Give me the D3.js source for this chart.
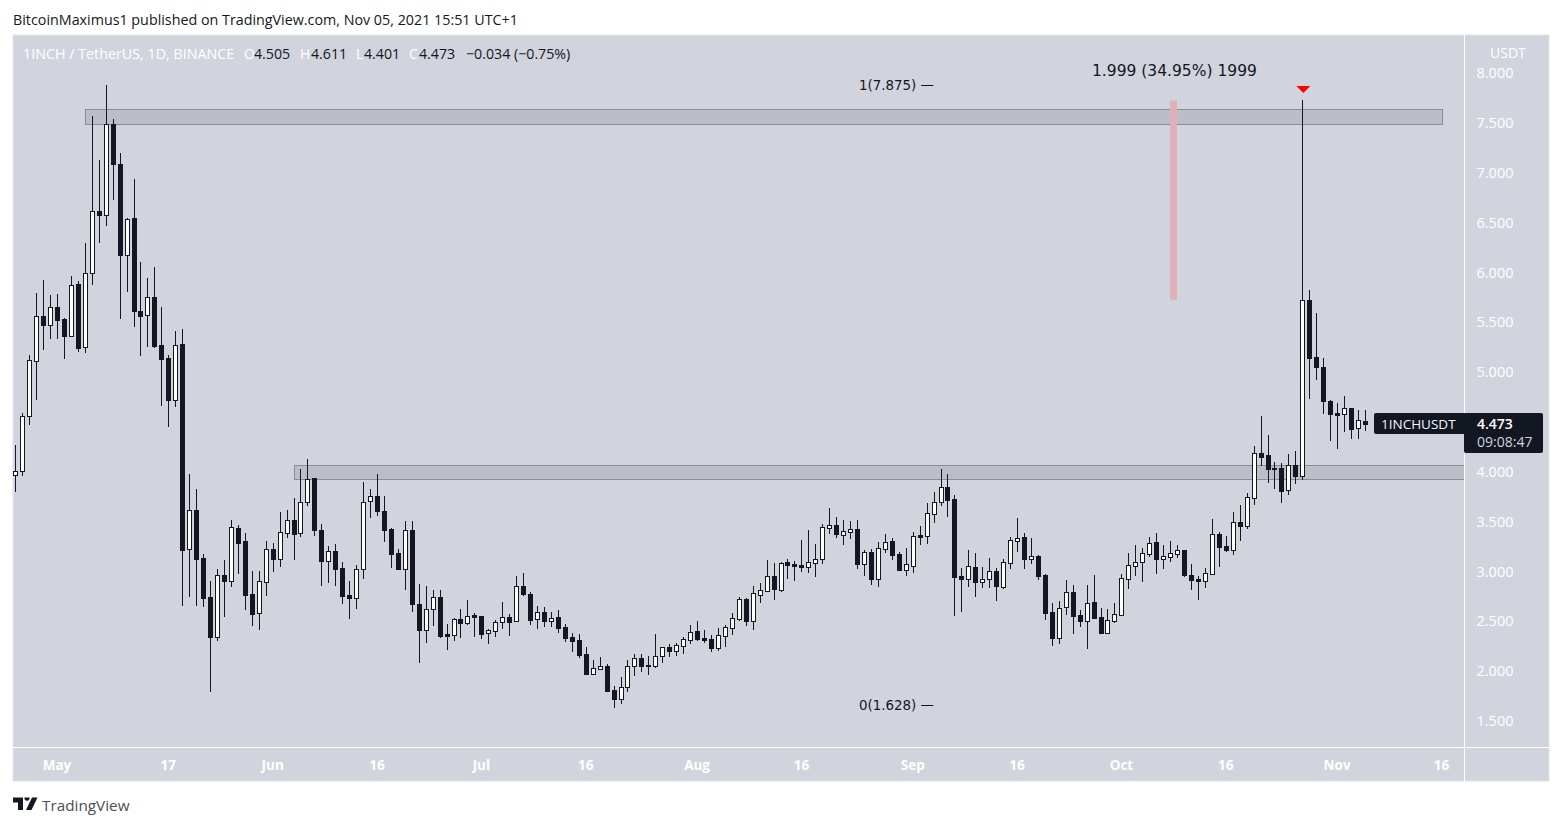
<!DOCTYPE html>
<html>
<head>
<meta charset="utf-8">
<script src="https://d3js.org/d3.v7.min.js"></script>
<style>
  html, body { margin: 0; padding: 0; background: #fff; }
  svg { display: block; }
  text { font-family: "Open Sans", "Liberation Sans", sans-serif; }
</style>
</head>
<body>
<div id="root"></div>
<script>
const firstDay = new Date(Date.UTC(2021, 3, 25));

const opens = [
  3.96, 4.00, 4.55, 5.11, 5.56, 5.47, 5.65, 5.53, 5.36, 5.88,
  5.25, 5.99, 6.61, 6.57, 7.48, 7.08, 6.17, 6.54, 5.61, 5.57,
  5.75, 5.27, 5.14, 4.71, 5.28, 3.22, 3.61, 3.13, 2.74, 2.34,
  2.96, 2.90, 3.43, 3.30, 2.77, 2.58, 2.89, 3.22, 3.12, 3.38,
  3.51, 3.38, 3.69, 3.93, 3.41, 3.10, 3.20, 3.03, 2.76, 2.73,
  3.02, 3.70, 3.75, 3.60, 3.42, 3.18, 3.02, 3.41, 2.67, 2.41,
  2.62, 2.74, 2.37, 2.36, 2.52, 2.48, 2.56, 2.55, 2.38, 2.40,
  2.49, 2.54, 2.50, 2.85, 2.77, 2.52, 2.59, 2.50, 2.54, 2.44,
  2.34, 2.31, 2.17, 1.97, 2.02, 2.05, 1.81, 1.72, 1.84, 2.05,
  2.13, 2.06, 2.05, 2.15, 2.24, 2.20, 2.25, 2.31, 2.40, 2.33,
  2.32, 2.23, 2.35, 2.43, 2.52, 2.72, 2.50, 2.76, 2.80, 2.95,
  2.81, 3.09, 3.07, 3.06, 3.04, 3.08, 3.12, 3.43, 3.46, 3.36,
  3.39, 3.42, 3.07, 3.19, 2.92, 3.22, 3.30, 3.17, 3.01, 3.05,
  3.36, 3.35, 3.57, 3.69, 3.84, 3.72, 2.95, 2.92, 3.04, 2.89,
  2.92, 3.00, 2.84, 3.08, 3.30, 3.34, 3.12, 3.15, 2.96, 2.59,
  2.33, 2.64, 2.79, 2.56, 2.50, 2.69, 2.54, 2.38, 2.50, 2.56,
  2.92, 3.05, 3.09, 3.17, 3.29, 3.12, 3.14, 3.17, 3.21, 2.96,
  2.92, 2.90, 2.97, 3.37, 3.25, 3.21, 3.49, 3.45, 3.73, 4.18,
  4.16, 4.03, 4.03, 3.81, 4.06, 3.95, 5.72, 5.15, 5.05, 4.70,
  4.58, 4.57, 4.63, 4.43, 4.505,
];
const highs = [
  4.26, 4.58, 5.17, 5.79, 5.92, 5.77, 5.78, 5.54, 5.96, 5.91,
  6.29, 7.56, 7.12, 7.875, 7.53, 7.19, 6.54, 6.93, 6.10, 5.94,
  6.05, 5.65, 5.17, 5.41, 5.43, 3.97, 3.82, 3.17, 2.90, 3.02,
  3.11, 3.51, 3.46, 3.38, 3.00, 3.00, 3.30, 3.28, 3.59, 3.61,
  3.73, 4.02, 4.12, 3.93, 3.47, 3.25, 3.27, 3.09, 2.90, 3.06,
  3.89, 3.82, 3.97, 3.75, 3.43, 3.22, 3.50, 3.50, 2.87, 2.85,
  2.81, 2.81, 2.47, 2.53, 2.62, 2.71, 2.58, 2.55, 2.42, 2.51,
  2.69, 2.57, 2.95, 2.98, 2.79, 2.65, 2.64, 2.59, 2.61, 2.47,
  2.38, 2.37, 2.24, 2.11, 2.14, 2.07, 1.85, 1.94, 2.11, 2.17,
  2.17, 2.15, 2.37, 2.24, 2.27, 2.28, 2.34, 2.46, 2.50, 2.41,
  2.36, 2.43, 2.46, 2.58, 2.74, 2.73, 2.85, 2.88, 3.11, 3.08,
  3.09, 3.12, 3.10, 3.31, 3.41, 3.27, 3.47, 3.63, 3.54, 3.51,
  3.50, 3.51, 3.21, 3.22, 3.29, 3.37, 3.33, 3.19, 3.23, 3.39,
  3.45, 3.68, 3.79, 4.02, 3.97, 3.76, 3.03, 3.21, 3.18, 3.04,
  3.13, 3.03, 3.12, 3.34, 3.53, 3.38, 3.33, 3.16, 2.97, 2.68,
  2.70, 2.91, 2.86, 2.61, 2.86, 2.96, 2.63, 2.62, 2.68, 2.97,
  3.18, 3.26, 3.23, 3.34, 3.38, 3.26, 3.30, 3.26, 3.21, 3.07,
  2.95, 3.03, 3.52, 3.39, 3.35, 3.59, 3.66, 3.78, 4.25, 4.55,
  4.36, 4.09, 4.08, 4.17, 4.20, 7.72, 5.82, 5.59, 5.14, 4.71,
  4.68, 4.76, 4.63, 4.61, 4.611,
];
const lows = [
  3.79, 3.95, 4.46, 4.71, 5.22, 5.33, 5.33, 5.13, 5.35, 5.20,
  5.19, 5.87, 6.29, 6.46, 6.72, 5.53, 5.80, 5.45, 5.16, 5.25,
  5.24, 4.65, 4.44, 4.64, 2.65, 2.74, 2.65, 2.64, 1.79, 2.30,
  2.54, 2.84, 2.97, 2.61, 2.45, 2.41, 2.75, 2.99, 3.04, 3.33,
  3.11, 3.34, 3.65, 3.35, 2.85, 2.88, 2.85, 2.67, 2.52, 2.62,
  2.92, 3.53, 3.55, 3.29, 3.03, 3.01, 2.81, 2.59, 2.08, 2.28,
  2.45, 2.33, 2.21, 2.30, 2.33, 2.46, 2.34, 2.32, 2.27, 2.34,
  2.42, 2.35, 2.49, 2.75, 2.46, 2.42, 2.44, 2.44, 2.38, 2.29,
  2.19, 2.13, 1.96, 1.96, 2.01, 1.79, 1.628, 1.67, 1.79, 1.95,
  1.99, 1.96, 2.03, 2.08, 2.14, 2.15, 2.17, 2.27, 2.30, 2.28,
  2.19, 2.20, 2.24, 2.36, 2.50, 2.45, 2.41, 2.68, 2.79, 2.71,
  2.79, 2.92, 2.90, 2.99, 2.98, 2.94, 3.07, 3.37, 3.33, 3.26,
  3.32, 3.02, 2.95, 2.86, 2.84, 3.18, 3.11, 3.00, 2.95, 2.98,
  3.26, 3.27, 3.48, 3.65, 3.54, 2.55, 2.59, 2.84, 2.74, 2.83,
  2.83, 2.70, 2.82, 3.02, 3.19, 3.02, 3.07, 2.91, 2.51, 2.25,
  2.27, 2.56, 2.37, 2.44, 2.22, 2.52, 2.37, 2.37, 2.48, 2.55,
  2.82, 2.95, 2.89, 3.14, 2.97, 3.02, 3.09, 3.13, 2.94, 2.81,
  2.71, 2.83, 2.96, 3.04, 3.19, 3.16, 3.30, 3.42, 3.66, 4.05,
  3.88, 3.82, 3.68, 3.76, 3.87, 3.91, 4.72, 4.92, 4.57, 4.30,
  4.22, 4.39, 4.32, 4.32, 4.401,
];
const closes = [
  4.00, 4.55, 5.12, 5.56, 5.47, 5.65, 5.52, 5.36, 5.87, 5.24,
  5.99, 6.61, 6.57, 7.48, 7.08, 6.17, 6.53, 5.61, 5.56, 5.75,
  5.26, 5.13, 4.71, 5.27, 3.21, 3.61, 3.12, 2.73, 2.34, 2.96,
  2.90, 3.44, 3.28, 2.76, 2.57, 2.90, 3.22, 3.12, 3.39, 3.51,
  3.37, 3.69, 3.92, 3.41, 3.10, 3.20, 3.02, 2.75, 2.73, 3.02,
  3.69, 3.75, 3.60, 3.41, 3.17, 3.02, 3.41, 2.67, 2.41, 2.62,
  2.74, 2.35, 2.35, 2.52, 2.48, 2.55, 2.54, 2.37, 2.41, 2.49,
  2.54, 2.49, 2.85, 2.77, 2.51, 2.59, 2.50, 2.53, 2.43, 2.33,
  2.30, 2.16, 1.97, 2.03, 2.05, 1.80, 1.72, 1.84, 2.05, 2.13,
  2.05, 2.05, 2.15, 2.24, 2.20, 2.26, 2.32, 2.39, 2.32, 2.31,
  2.23, 2.36, 2.44, 2.53, 2.72, 2.50, 2.78, 2.81, 2.95, 2.82,
  3.08, 3.06, 3.05, 3.04, 3.09, 3.12, 3.44, 3.46, 3.37, 3.40,
  3.42, 3.07, 3.19, 2.92, 3.23, 3.29, 3.16, 3.01, 3.07, 3.35,
  3.34, 3.58, 3.69, 3.84, 3.71, 2.94, 2.92, 3.05, 2.89, 2.92,
  3.00, 2.85, 3.09, 3.31, 3.33, 3.12, 3.15, 2.95, 2.58, 2.33,
  2.63, 2.79, 2.55, 2.50, 2.68, 2.53, 2.38, 2.51, 2.57, 2.93,
  3.06, 3.09, 3.18, 3.28, 3.12, 3.15, 3.18, 3.21, 2.96, 2.91,
  2.90, 2.98, 3.37, 3.24, 3.21, 3.49, 3.45, 3.74, 4.18, 4.14,
  4.02, 4.02, 3.80, 4.06, 3.95, 5.72, 5.14, 5.05, 4.70, 4.57,
  4.56, 4.63, 4.42, 4.51, 4.473,
];

const priceTicks = [1.5, 2, 2.5, 3, 3.5, 4, 5, 5.5, 6, 6.5, 7, 7.5, 8];
const dateTicks = [
  ['2021-05-01', 'May'], ['2021-05-17', '17'], ['2021-06-01', 'Jun'], ['2021-06-16', '16'],
  ['2021-07-01', 'Jul'], ['2021-07-16', '16'], ['2021-08-01', 'Aug'], ['2021-08-16', '16'],
  ['2021-09-01', 'Sep'], ['2021-09-16', '16'], ['2021-10-01', 'Oct'], ['2021-10-16', '16'],
  ['2021-11-01', 'Nov'], ['2021-11-16', '16'],
];

const upperZone = { from: '2021-05-05', to: '2021-11-16', top: 7.63, bottom: 7.48 };
const lowerZone = { from: '2021-06-04', top: 4.06, bottom: 3.92 };

const dark = '#131722';
const panelFill = '#d1d4dc';
const axisText = '#fff';

const svg = d3.select('#root').append('svg').attr('width', 1562).attr('height', 826);

const panel = { left: 13, top: 35, right: 1549, bottom: 781, axisX: 1464, axisY: 747 };

// Scales
const days = d3.utcDay.range(firstDay, d3.utcDay.offset(firstDay, closes.length));
const xScale = d3
  .scaleUtc()
  .domain([firstDay, days[days.length - 1]])
  .range([15.75, 15.75 + 194 * 6.957]);
const yScale = d3.scaleLinear().domain([1.5, 8]).range([720.5, 72.5]);
const col = (date) => Math.floor(xScale(date));

// Panel background
svg
  .append('rect')
  .attr('x', panel.left)
  .attr('y', panel.top)
  .attr('width', panel.right - panel.left)
  .attr('height', panel.bottom - panel.top)
  .attr('fill', panelFill)
  .attr('stroke', '#e0e3eb');

// Zones
const zones = [
  { x0: col(new Date(upperZone.from)), x1: col(new Date(upperZone.to)) + 1, ...upperZone },
  { x0: col(new Date(lowerZone.from)), x1: panel.axisX, ...lowerZone },
];
svg
  .append('g')
  .attr('id', 'zones')
  .selectAll('rect')
  .data(zones)
  .enter()
  .append('rect')
  .attr('x', (d) => d.x0 + 0.5)
  .attr('y', (d) => Math.round(yScale(d.top)) + 0.5)
  .attr('width', (d) => d.x1 - d.x0)
  .attr('height', (d) => Math.round(yScale(d.bottom)) - Math.round(yScale(d.top)))
  .attr('fill', '#bbbec7')
  .attr('stroke', '#8b8e96');

// Pink bar for the 1.999 move
const barDay = d3.utcDay.offset(firstDay, 166);
svg
  .append('rect')
  .attr('x', col(barDay))
  .attr('width', 7)
  .attr('y', yScale(highs[185]))
  .attr('height', yScale(closes[185]) - yScale(highs[185]))
  .attr('fill', '#dfb0b6');

// Axis lines
svg
  .append('path')
  .attr('d', `M${panel.axisX + 0.5},${panel.top}V${panel.bottom}M${panel.left},${panel.axisY + 0.5}H${panel.right}`)
  .attr('stroke', '#fff')
  .attr('fill', 'none');

// Candles
const candles = days.map((day, i) => ({
  day,
  open: opens[i],
  high: highs[i],
  low: lows[i],
  close: closes[i],
}));

const candle = svg
  .append('g')
  .attr('id', 'candles')
  .attr('shape-rendering', 'crispEdges')
  .selectAll('g')
  .data(candles)
  .enter()
  .append('g');

candle
  .append('rect')
  .attr('x', (d) => col(d.day))
  .attr('width', 1)
  .attr('y', (d) => Math.round(yScale(d.high)))
  .attr('height', (d) => Math.max(1, Math.round(yScale(d.low)) - Math.round(yScale(d.high))))
  .attr('fill', dark);

candle
  .append('rect')
  .attr('x', (d) => col(d.day) - 1.5)
  .attr('width', 4)
  .attr('y', (d) => Math.round(yScale(Math.max(d.open, d.close))) + 0.5)
  .attr('height', (d) =>
    Math.max(1, Math.round(yScale(Math.min(d.open, d.close))) - Math.round(yScale(Math.max(d.open, d.close)))),
  )
  .attr('fill', (d) => (d.close > d.open ? '#fff' : dark))
  .attr('stroke', dark);

// Red marker above the spike
const spikeDay = days[185];
svg
  .append('path')
  .attr('d', d3.line()([
    [xScale(spikeDay) - 6.5, yScale(highs[185]) - 14.5],
    [xScale(spikeDay) + 7.5, yScale(highs[185]) - 14.5],
    [xScale(spikeDay) + 0.5, yScale(highs[185]) - 7.5],
  ]))
  .attr('fill', '#ff0000');

// Price axis
const yAxis = d3
  .axisRight(yScale)
  .tickValues(priceTicks)
  .tickSize(0)
  .tickPadding(0)
  .tickFormat(d3.format('.3f'));
const yAxisGroup = svg.append('g').attr('id', 'y-axis').attr('transform', `translate(${panel.axisX + 12.5},0.5)`).call(yAxis);
yAxisGroup.select('.domain').remove();
yAxisGroup.selectAll('text').attr('fill', axisText).attr('font-size', 14.5).attr('font-weight', 500).attr('font-family', '"Open Sans", sans-serif');

// Time axis
const xAxis = d3
  .axisBottom(xScale)
  .tickValues(dateTicks.map((d) => new Date(d[0])))
  .tickSize(0)
  .tickPadding(0)
  .tickFormat((d, i) => dateTicks[i][1]);
const xAxisGroup = svg.append('g').attr('id', 'x-axis').attr('transform', `translate(-1,${panel.axisY + 13})`).call(xAxis);
xAxisGroup.select('.domain').remove();
xAxisGroup.selectAll('text').attr('fill', axisText).attr('font-size', 13.5).attr('font-weight', 700).attr('font-family', '"Open Sans", sans-serif');

// Texts
function label(x, y, text, opts = {}) {
  return svg
    .append('text')
    .attr('x', x)
    .attr('y', y)
    .attr('dominant-baseline', 'central')
    .attr('text-anchor', opts.anchor || 'start')
    .attr('font-size', opts.size || 14)
    .attr('font-weight', opts.weight || 400)
    .attr('fill', opts.fill || dark)
    .style('font-family', opts.font || null)
    .text(text);
}

label(13, 19, 'BitcoinMaximus1 published on TradingView.com, Nov 05, 2021 15:51 UTC+1', { size: 14.3 });
label(1490, 52, 'USDT', { fill: axisText });
label(23, 53.5, '1INCH / TetherUS, 1D, BINANCE', { fill: axisText, size: 14.3 });
[[244, 'O'], [300, 'H'], [356, 'L'], [409, 'C']].forEach((d) => label(d[0], 53.5, d[1], { fill: axisText }));
[[254, '4.505'], [311, '4.611'], [364, '4.401'], [419, '4.473'], [466, '\u22120.034 (\u22120.75%)']].forEach((d) =>
  label(d[0], 53.5, d[1], { size: 14.2 }),
);

label(859, 85, '1(7.875) \u2014', { size: 13.4, font: '"DejaVu Sans"' });
label(859, 705, '0(1.628) \u2014', { size: 13.4, font: '"DejaVu Sans"' });
label(1092, 71, '1.999 (34.95%) 1999', { size: 15.5, font: '"DejaVu Sans"' });

// Last price tag
const lastY = yScale(closes[closes.length - 1]);
svg.append('rect').attr('x', 1374).attr('y', lastY - 11).attr('width', 92).attr('height', 21).attr('rx', 2).attr('fill', dark);
svg.append('rect').attr('x', panel.axisX).attr('y', lastY - 11).attr('width', 79).attr('height', 40).attr('rx', 2).attr('fill', dark);
label(1381, lastY - 0.5, '1INCHUSDT', { fill: '#f4f5f7', size: 13.5 });
label(panel.axisX + 13, lastY - 0.5, '4.473', { fill: '#fff', weight: 600 });
label(panel.axisX + 13, lastY + 17.5, '09:08:47', { fill: '#d1d4dc' });

// TradingView logo
svg.append('path').attr('d', 'M13 797.5h10v12.5h-5v-7.5h-5z M24.5 797.5a2.6 2.6 0 1 0 5 0z M32 797.5h5.5l-6 12.5h-5.5z').attr('fill', dark);
label(42, 804.5, 'TradingView', { size: 15.3, fill: '#4a4e59' });
</script>
</body>
</html>
